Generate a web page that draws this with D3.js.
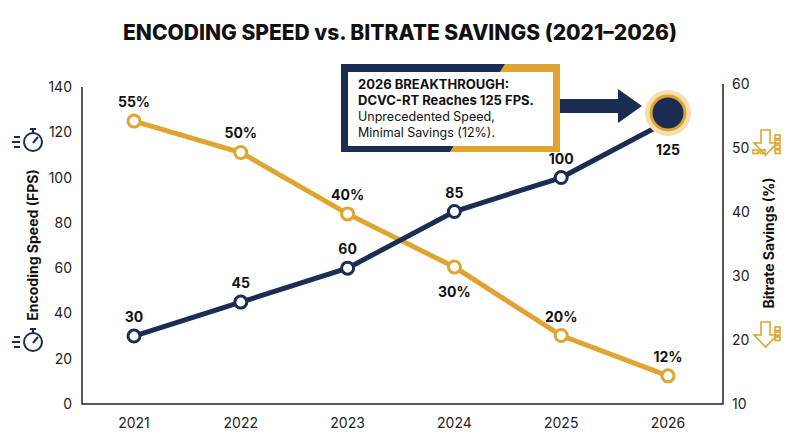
<!DOCTYPE html>
<html><head><meta charset="utf-8">
<script src="https://cdn.jsdelivr.net/npm/d3@7"></script>
<style>body{margin:0;background:#fff}svg{display:block;font-family:Inter,"Noto Sans",sans-serif}</style>
</head><body><svg id="c" width="800" height="447"></svg>
<script>
const years=[2021,2022,2023,2024,2025,2026];
const speed=[30,45,60,85,100,125];
const savings=[54.2,49.3,39.7,31.4,20.7,14.4];
const savingsLabels=["55%","50%","40%","30%","20%","12%"];
const speedTicks=[0,20,40,60,80,100,120,140];
const savingsTicks=[10,20,30,40,50,60];
const navy="#1b2d52",gold="#e0a531";
const svg=d3.select("#c");
const x=d3.scalePoint().domain(years).range([134,668]);
const yL=d3.scaleLinear().domain([0,140]).range([404,87]);
const yR=d3.scaleLinear().domain([10,60]).range([404,84]);
svg.append("text").attr("x",400).attr("y",40).attr("text-anchor","middle").attr("font-size",21).attr("font-weight",800).attr("fill","#111").text("ENCODING SPEED vs. BITRATE SAVINGS (2021–2026)");
svg.append("path").attr("d",`M82,87V404H723V84`).attr("fill","none").attr("stroke","#222").attr("stroke-width",1.5);
speedTicks.forEach(t=>svg.append("text").attr("x",72).attr("y",yL(t)+5).attr("text-anchor","end").attr("font-size",14).attr("fill","#222").text(t));
savingsTicks.forEach(t=>svg.append("text").attr("x",732).attr("y",yR(t)+5).attr("font-size",14).attr("fill","#222").text(t));
years.forEach(t=>svg.append("text").attr("x",x(t)).attr("y",428).attr("text-anchor","middle").attr("font-size",14).attr("fill","#222").text(t));
svg.append("text").attr("transform","translate(38,245) rotate(-90)").attr("text-anchor","middle").attr("font-size",14).attr("font-weight",700).attr("fill","#111").text("Encoding Speed (FPS)");
svg.append("text").attr("transform","translate(774,243) rotate(-90)").attr("text-anchor","middle").attr("font-size",14).attr("font-weight",700).attr("fill","#111").text("Bitrate Savings (%)");
function watch(cx,cy){const g=svg.append("g").attr("stroke",navy).attr("fill","none").attr("stroke-width",2);
g.append("circle").attr("cx",cx).attr("cy",cy).attr("r",9);g.append("path").attr("d",`M${cx-3},${cy-13}h6M${cx},${cy-13}v4M${cx},${cy+1}l5,-6M${cx-19},${cy-5}h6M${cx-21},${cy}h8M${cx-19},${cy+5}h6`);}
watch(33,142);watch(33,342);
function saveIcon(cx,cy,n){const g=svg.append("g").attr("stroke",gold).attr("fill","none").attr("stroke-width",1.6);
g.append("path").attr("d",`M${cx-5},${cy-14}h9v13h7l-11.5,12l-11.5,-12h7z`);
for(let i=0;i<n;i++)g.append("rect").attr("x",cx+9).attr("y",cy-9+i*5).attr("width",5).attr("height",3.5);
if(n>3)for(let i=0;i<2;i++)g.append("rect").attr("x",cx-13+i*7).attr("y",cy+6).attr("width",5).attr("height",3.5);}
saveIcon(766,144,4);saveIcon(766,336,3);
const ls=d3.line().x((d,i)=>x(years[i])).y(d=>yR(d));
const lf=d3.line().x((d,i)=>x(years[i])).y(d=>yL(d));
svg.append("path").attr("d",ls(savings)).attr("fill","none").attr("stroke",gold).attr("stroke-width",5);
svg.append("path").attr("d",lf(speed)).attr("fill","none").attr("stroke",navy).attr("stroke-width",5);
savings.forEach((v,i)=>{svg.append("circle").attr("cx",x(years[i])).attr("cy",yR(v)).attr("r",6).attr("fill","#fff").attr("stroke",gold).attr("stroke-width",3);
const below=i===3;svg.append("text").attr("x",x(years[i])).attr("y",below?yR(v)+30:yR(v)-14).attr("text-anchor","middle").attr("font-size",14).attr("font-weight",700).attr("fill","#111").text(savingsLabels[i]);});
speed.forEach((v,i)=>{if(i===5)return;svg.append("circle").attr("cx",x(years[i])).attr("cy",yL(v)).attr("r",6).attr("fill","#fff").attr("stroke",navy).attr("stroke-width",3);
svg.append("text").attr("x",x(years[i])).attr("y",yL(v)-14).attr("text-anchor","middle").attr("font-size",14).attr("font-weight",700).attr("fill","#111").text(v);});
const px=x(2026),py=yL(speed[5])-8;
svg.append("circle").attr("cx",px).attr("cy",py).attr("r",23).attr("fill","#f5dfae");
svg.append("circle").attr("cx",px).attr("cy",py).attr("r",17).attr("fill",navy).attr("stroke",gold).attr("stroke-width",3);
svg.append("text").attr("x",px).attr("y",py+42).attr("text-anchor","middle").attr("font-size",14).attr("font-weight",700).attr("fill","#111").text(speed[5]);
svg.append("path").attr("d","M560,99H618V89L642,106L618,123V113H560Z").attr("fill",navy);
svg.append("path").attr("d","M505,64H560V152H450Z").attr("fill",gold);
svg.append("path").attr("d","M341,64H505L450,152H341Z").attr("fill",navy);
svg.append("rect").attr("x",348).attr("y",72).attr("width",205).attr("height",74).attr("fill","#fff");
const tl=[["2026 BREAKTHROUGH:",700,13],["DCVC-RT Reaches 125 FPS.",700,13],["Unprecedented Speed,",400,12.5],["Minimal Savings (12%).",400,12.5]];
tl.forEach((t,i)=>svg.append("text").attr("x",358).attr("y",89+i*16).attr("font-size",t[2]).attr("font-weight",t[1]).attr("fill","#111").text(t[0]));
</script></body></html>
